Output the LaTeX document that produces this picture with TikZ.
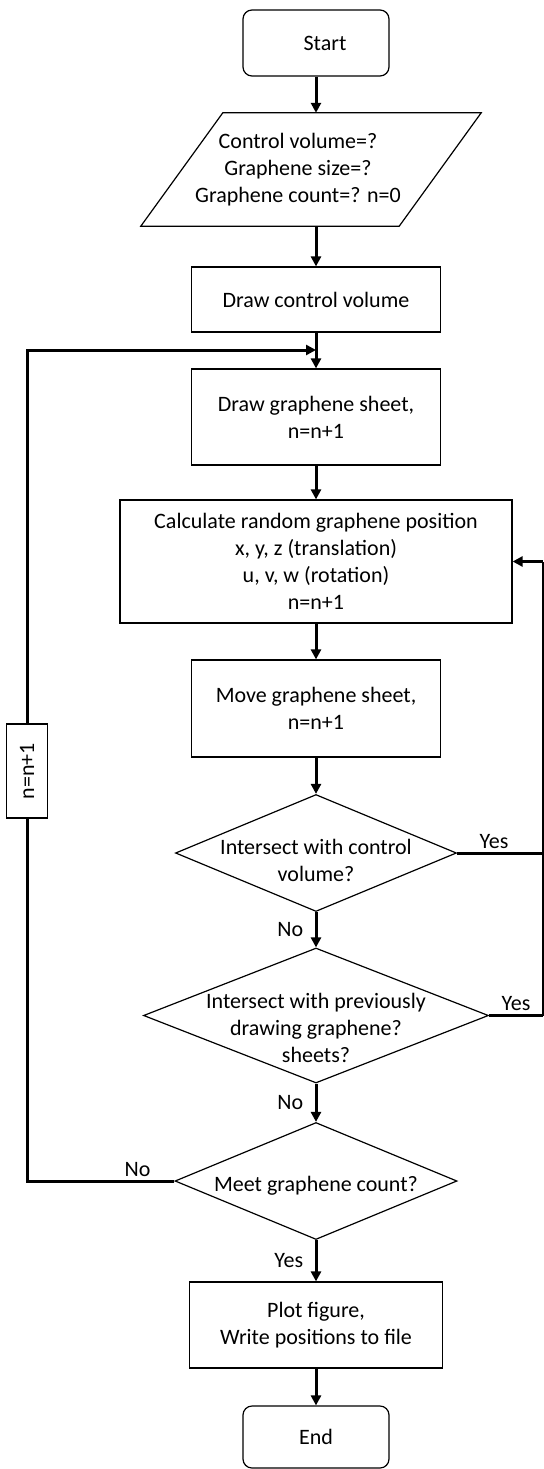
\documentclass[tikz,border=0pt]{standalone}
\usepackage{fontspec}
\setmainfont{Carlito}
\usetikzlibrary{shapes.geometric,arrows.meta}

\begin{document}
\begin{tikzpicture}[x=1bp, y=-1bp,
    font=\fontsize{22bp}{27bp}\selectfont,
    box/.style={draw, line width=1.2bp, minimum width=249bp, align=center, inner sep=2bp},
    term/.style={box, rounded corners=9bp, minimum width=146bp},
    decision/.style={draw, diamond, line width=1.2bp, inner sep=0pt},
    flow/.style={line width=3bp, -{Triangle[length=10bp,width=10bp]}},
    wire/.style={line width=3bp}]
    \useasboundingbox (0,0) rectangle (544,1469);

    % main column
    \node[term, minimum height=66bp] (start) at (316,43) {\hspace*{18bp}Start};
    \node[align=center, minimum width=258bp, minimum height=113bp] (input) at (298,169.5)
          {Control volume=?\\Graphene size=?\\Graphene count=? n=0};
    \draw[line width=1.2bp] ([xshift=-28bp]input.south west) -- ([xshift=54bp]input.north west)
          -- ([xshift=54bp]input.north east) -- ([xshift=-28bp]input.south east) -- cycle;
    \node[box, minimum height=65bp] (drawcv) at (316,299.5) {Draw control volume};
    \node[box, minimum height=96bp] (drawgs) at (316,417) {Draw graphene sheet,\\n=n+1};
    \node[box, minimum width=392bp, minimum height=123bp] (calc) at (316,561.5)
          {Calculate random graphene position\\x, y, z (translation)\\u, v, w (rotation)\\n=n+1};
    \node[box, minimum height=97bp] (move) at (316,708.5) {Move graphene sheet,\\n=n+1};
    \node[decision, minimum width=281bp, minimum height=117bp,
          label={[align=center, yshift=-7bp]center:Intersect with control\\volume?}] (intcv) at (316,853) {};
    \node[decision, minimum width=345bp, minimum height=135bp,
          label={[align=center, yshift=-12bp]center:Intersect with previously\\drawing graphene?\\sheets?}] (intgs) at (316,1015.5) {};
    \node[decision, minimum width=282bp, minimum height=117bp,
          label={[yshift=-5bp]center:Meet graphene count?}] (meet) at (316,1181) {};
    \node[box, minimum width=253bp, minimum height=86bp] (plot) at (316,1325) {Plot figure,\\Write positions to file};
    \node[term, minimum height=62bp] (finish) at (316,1437) {End};

    % loop counter
    \node[box, rotate=90, minimum width=94bp, minimum height=41bp] (nbox) at (27,771) {n=n+1};
    \coordinate (join) at (316,350);
    \coordinate (rail) at (543,0);

    \draw[flow] (start.south) -- (start.south |- input.north);
    \draw[flow] (drawcv.north |- input.south) -- (drawcv.north);
    \draw[flow] (drawcv) -- (drawgs);
    \draw[flow] (drawgs) -- (calc);
    \draw[flow] (calc) -- (move);
    \draw[flow] (move) -- (intcv);
    \draw[flow] (intcv) -- node[left=8bp] {No} (intgs);
    \draw[flow] (intgs) -- node[left=8bp] {No} (meet);
    \draw[flow] (meet) -- node[left=8bp] {Yes} (plot);
    \draw[flow] (plot) -- (finish);

    % back to the position step
    \draw[wire] (intcv.east) -- node[above, xshift=-6bp] {Yes} (intcv.east -| rail);
    \draw[wire] (intgs.east) -- node[above] {Yes} (intgs.east -| rail);
    \draw[line width=1.3bp] (intgs.east -| rail) -- (calc.east -| rail);
    \draw[flow] (calc.east -| rail) -- (calc.east);

    % back to a new sheet
    \draw[wire] (meet.west) -- node[above, pos=0.25] {No} (meet.west -| nbox) -- (nbox);
    \draw[flow] (nbox) |- (join);
\end{tikzpicture}
\end{document}
